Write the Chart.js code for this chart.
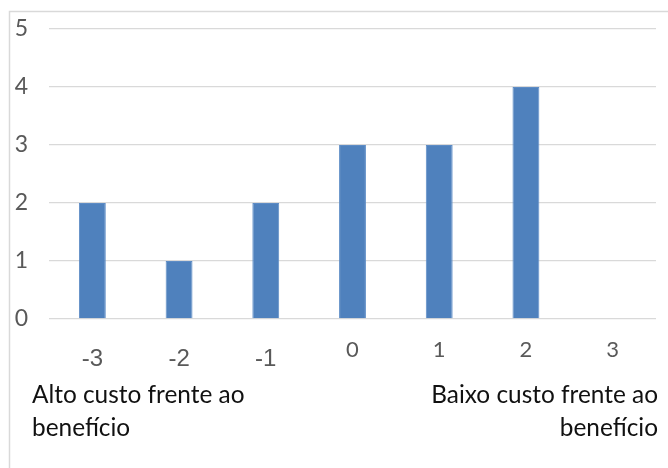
<!DOCTYPE html>
<html>
<head>
<meta charset="utf-8">
<script src="https://cdn.jsdelivr.net/npm/chart.js@4/dist/chart.umd.min.js"></script>
<style>
  html, body { margin: 0; padding: 0; background: #ffffff; overflow: hidden; }
  #wrap { position: relative; width: 668px; height: 468px; }
</style>
</head>
<body>
<div id="wrap"><canvas id="chart" width="668" height="468"></canvas></div>
<script>
// Scale from high cost (-3) to low cost (+3) relative to benefit
const categories = ['-3', '-2', '-1', '0', '1', '2', '3'];
const counts = [2, 1, 2, 3, 3, 4, 0];
const yTicks = [0, 1, 2, 3, 4, 5];
const leftNote = ['Alto custo frente ao', 'benefício'];
const rightNote = ['Baixo custo frente ao', 'benefício'];

const frame = {
  id: 'frame',
  beforeDraw(chart) {
    const ctx = chart.ctx;
    ctx.save();
    ctx.strokeStyle = '#d9d9d9';
    ctx.lineWidth = 1.5;
    ctx.strokeRect(9.5, 11.5, 720, 520);
    ctx.restore();
  }
};

const notes = {
  id: 'notes',
  afterDraw(chart) {
    const ctx = chart.ctx;
    const area = chart.chartArea;
    ctx.save();
    ctx.fillStyle = '#111111';
    ctx.font = '24.4px Lato';
    ctx.textBaseline = 'alphabetic';
    ctx.textAlign = 'left';
    leftNote.forEach((t, i) => ctx.fillText(t, area.left - 17, area.bottom + 84 + i * 33));
    ctx.textAlign = 'right';
    rightNote.forEach((t, i) => ctx.fillText(t, area.right + 2, area.bottom + 84 + i * 33));
    ctx.restore();
  }
};

new Chart(document.getElementById('chart'), {
  type: 'bar',
  data: {
    labels: categories,
    datasets: [{
      data: counts,
      backgroundColor: '#4f81bd',
      borderColor: '#5d8cc6',
      borderWidth: 1,
      categoryPercentage: 1,
      barPercentage: 0.31
    }]
  },
  options: {
    responsive: false,
    animation: false,
    layout: { padding: { top: 29, right: 12, bottom: 0, left: 0 } },
    plugins: { legend: { display: false }, tooltip: { enabled: false } },
    scales: {
      x: {
        grid: { display: false },
        border: { display: false },
        ticks: {
          color: '#595959',
          padding: 20,
          font: (c) => {
            const lbl = categories[c.index];
            return (lbl && lbl.startsWith('-'))
              ? { family: 'Liberation Sans', size: 24, lineHeight: 1 }
              : { family: 'Lato', size: 22, lineHeight: 0.3 };
          }
        },
        afterFit: (s) => { s.height = 149; }
      },
      y: {
        min: 0,
        max: 5,
        afterBuildTicks: (s) => { s.ticks = yTicks.map(v => ({ value: v })); },
        grid: { color: '#d9d9d9', lineWidth: 1.3, drawTicks: false },
        border: { display: false },
        ticks: {
          color: '#595959',
          padding: 21,
          font: { family: 'Lato', size: 23 }
        },
        afterFit: (s) => { s.width = 49; s.paddingTop = 0; s.paddingBottom = 0; }
      }
    }
  },
  plugins: [frame, notes]
});
</script>
</body>
</html>
